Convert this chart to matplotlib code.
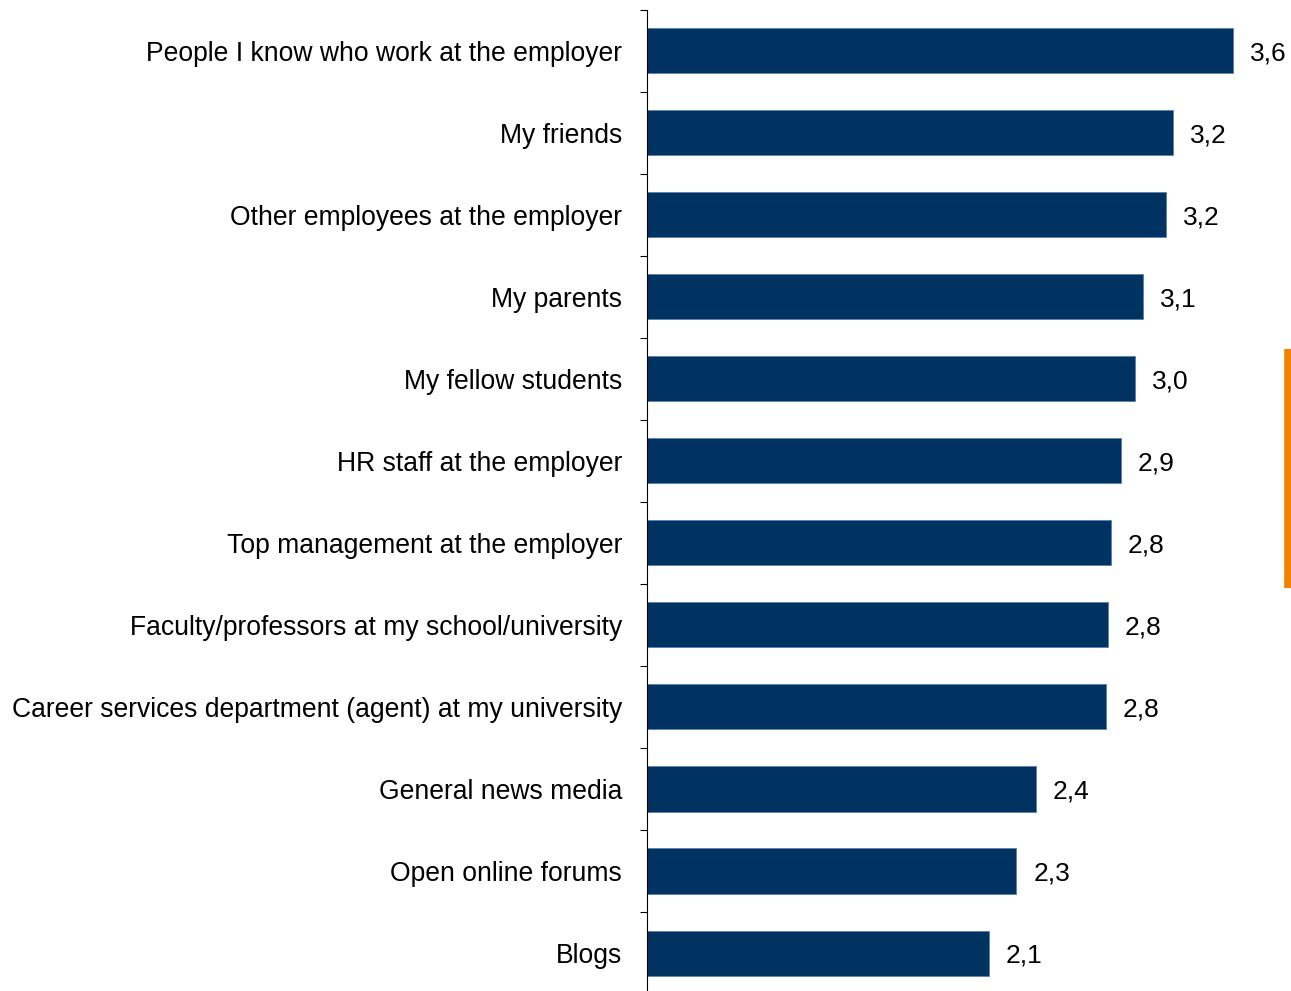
import matplotlib
matplotlib.use("Agg")
import matplotlib.pyplot as plt
from matplotlib.lines import Line2D
import numpy as np

categories = [
    "People I know who work at the employer",
    "My friends",
    "Other employees at the employer",
    "My parents",
    "My fellow students",
    "HR staff at the employer",
    "Top management at the employer",
    "Faculty/professors at my school/university",
    "Career services department (agent) at my university",
    "General news media",
    "Open online forums",
    "Blogs",
]
values = [3.60, 3.23, 3.19, 3.05, 3.00, 2.91, 2.85, 2.83, 2.82, 2.39, 2.27, 2.10]
labels = ["3,6", "3,2", "3,2", "3,1", "3,0", "2,9", "2,8", "2,8", "2,8", "2,4", "2,3", "2,1"]

plt.rcParams['font.family'] = ['Liberation Sans', 'DejaVu Sans']

W, H = 1291, 991
fig = plt.figure(figsize=(W / 100, H / 100), dpi=100)
ax_left = 647 / W
ax_w = (W - 647) / W
ax_top_px = 9.5
ax_h_px = 12 * 82.05
ax = fig.add_axes([ax_left, 1 - (ax_top_px + ax_h_px) / H, ax_w, ax_h_px / H])

y = np.arange(len(categories))
ax.barh(y, values, height=0.55, color="#003361", edgecolor="#5a7fa6", linewidth=0.6, zorder=2)
ax.set_ylim(len(categories) - 0.5, -0.5)
ax.set_xlim(0, (W - 647) / 162.75)

for yi, v, lab in zip(y, values, labels):
    ax.text(v + 0.105, yi, lab, va="center_baseline", ha="left", fontsize=19, color="black")

ax.set_yticks(y)
ax.set_yticklabels(categories, fontsize=19.1)
ax.tick_params(axis="y", which="major", length=0, pad=18)
ax.set_yticks(np.arange(-0.5, len(categories), 1.0), minor=True)
ax.tick_params(axis="y", which="minor", length=5, width=0.8, direction="out", color="black")
ax.set_xticks([])
for s in ["top", "right", "bottom"]:
    ax.spines[s].set_visible(False)
ax.spines["left"].set_linewidth(0.8)

# orange accent line at right edge
fig.add_artist(Line2D([1287.5 / W, 1287.5 / W], [1 - 349 / H, 1 - 588 / H],
                      color="#f08300", linewidth=5.5, solid_capstyle="butt",
                      transform=fig.transFigure))

fig.savefig("out.png", dpi=100)
